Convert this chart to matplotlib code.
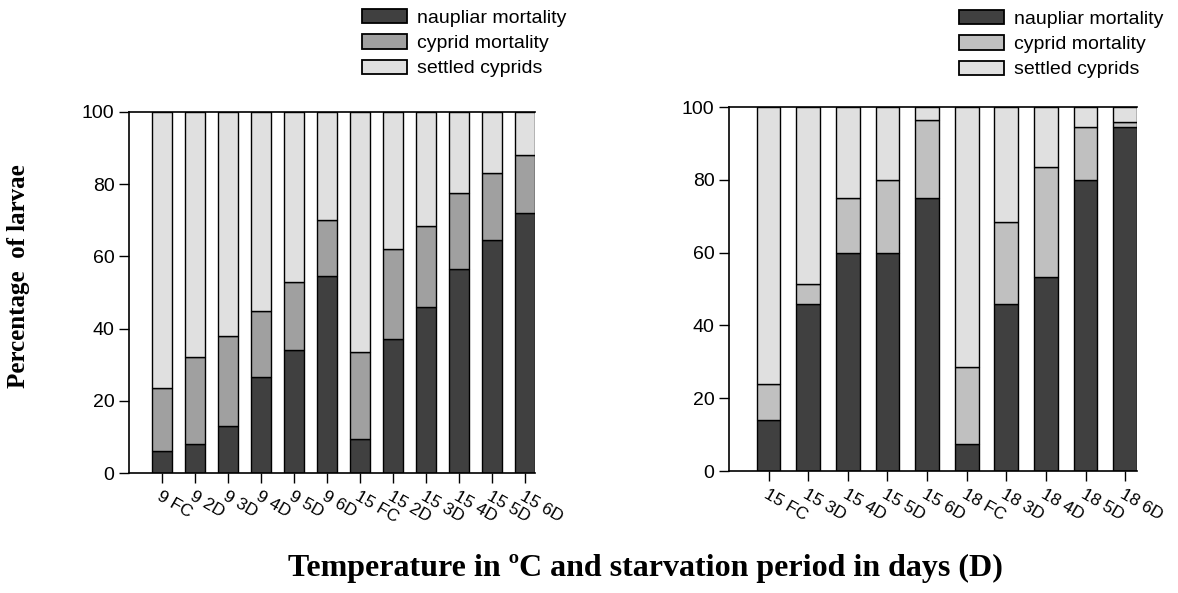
import matplotlib
matplotlib.use("Agg")
import matplotlib.pyplot as plt
from matplotlib.patches import Patch
import numpy as np

plt.rcParams['font.family'] = ['Liberation Sans', 'DejaVu Sans']

# left panel: 9 and 15 degrees
left_labels = ['9 FC', '9 2D', '9 3D', '9 4D', '9 5D', '9 6D',
               '15 FC', '15 2D', '15 3D', '15 4D', '15 5D', '15 6D']
left_naup = [6, 8, 13, 26.5, 34, 54.5, 9.5, 37, 46, 56.5, 64.5, 72]
left_cyp = [17.5, 24, 25, 18.5, 19, 15.5, 24, 25, 22.5, 21, 18.5, 16]

# right panel: 15 and 18 degrees
right_labels = ['15 FC', '15 3D', '15 4D', '15 5D', '15 6D',
                '18 FC', '18 3D', '18 4D', '18 5D', '18 6D']
right_naup = [14, 46, 60, 60, 75, 7.5, 46, 53.3, 80, 94.5]
right_cyp = [10, 5.5, 15, 20, 21.5, 21, 22.5, 30.2, 14.5, 1.5]

legend_names = ['naupliar mortality', 'cyprid mortality', 'settled cyprids']

W, H = 1178, 593
fig = plt.figure(figsize=(W/100, H/100), dpi=100)

def panel(rect, labels, naup, cyp, cyp_col, leg_x, leg_y):
    ax = fig.add_axes(rect)
    x = np.arange(len(labels))
    naup = np.array(naup)
    cyp = np.array(cyp)
    settled = 100 - naup - cyp
    cols = ['#404040', cyp_col, '#e0e0e0']
    ax.bar(x, naup, 0.6, color=cols[0], edgecolor='black', linewidth=1)
    ax.bar(x, cyp, 0.6, bottom=naup, color=cols[1], edgecolor='black', linewidth=1)
    ax.bar(x, settled, 0.6, bottom=naup+cyp, color=cols[2], edgecolor='black', linewidth=1)
    ax.set_xlim(-1, len(labels) - 1 + 0.3)
    ax.set_ylim(0, 100)
    ax.set_yticks([0, 20, 40, 60, 80, 100])
    ax.set_xticks(x)
    ax.set_xticklabels(labels, rotation=-30, ha='left', va='top',
                       rotation_mode='anchor', fontsize=12.5)
    ax.tick_params(axis='y', labelsize=14, length=7, width=1, direction='out')
    ax.tick_params(axis='x', length=7, width=1, direction='out', pad=4)
    ax.spines['right'].set_visible(False)
    for s in ['left', 'bottom', 'top']:
        ax.spines[s].set_linewidth(1.2)
    handles = [Patch(facecolor=c, edgecolor='black', linewidth=1.3) for c in cols]
    fig.legend(handles, legend_names, loc='upper left',
               bbox_to_anchor=(leg_x/W, 1 - leg_y/H), frameon=False,
               fontsize=14, handlelength=2.3, handleheight=0.75,
               handletextpad=0.55, labelspacing=0.38, borderpad=0,
               borderaxespad=0)
    return ax

panel([129/W, 1 - 473/H, 406/W, 361/H], left_labels, left_naup, left_cyp,
      '#a0a0a0', 362, 9)
panel([729/W, 1 - 471/H, 408/W, 364/H], right_labels, right_naup, right_cyp,
      '#c0c0c0', 959, 10)

fig.text(19/W, 1 - 276/H, 'Percentage  of larvae', rotation=90,
         ha='center', va='center', fontsize=18, fontweight='bold',
         family='Liberation Serif')
fig.text(645/W, 1 - 568/H, 'Temperature in ºC and starvation period in days (D)',
         ha='center', va='center', fontsize=23, fontweight='bold',
         family='Liberation Serif')

fig.savefig('out.png', dpi=100)
